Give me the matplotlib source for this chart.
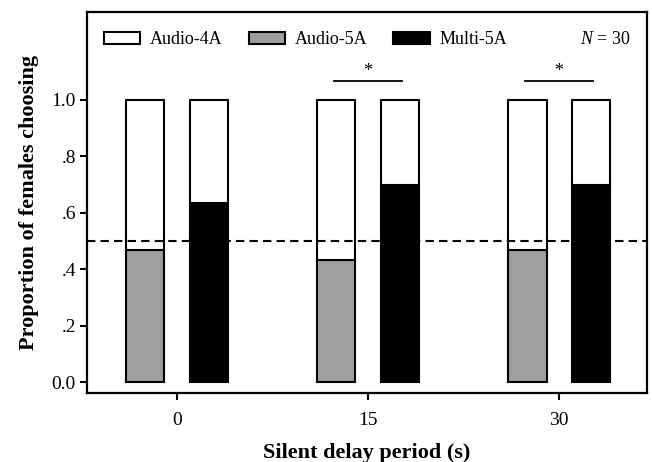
import matplotlib
matplotlib.use('Agg')
import matplotlib.pyplot as plt
import numpy as np

plt.rcParams['font.family'] = ['Liberation Serif', 'DejaVu Serif']
plt.rcParams['mathtext.fontset'] = 'custom'
plt.rcParams['mathtext.it'] = 'Liberation Serif:italic'
plt.rcParams['mathtext.rm'] = 'Liberation Serif'

# data
delays = ['0', '15', '30']
audio5a = [14 / 30, 13 / 30, 14 / 30]
multi5a = [19 / 30, 21 / 30, 21 / 30]
significant = [False, True, True]
chance = 0.5
n_label = '$N$ = 30'

x = np.arange(len(delays))
off = 0.166
w = 0.2

fig = plt.figure(figsize=(6.52, 4.62), dpi=100)
ax = fig.add_axes([87 / 652, 69 / 462, 560 / 652, 381 / 462])

a5 = np.array(audio5a)
m5 = np.array(multi5a)
lw = 1.5
# left bar: Audio-5A vs Audio-4A
ax.bar(x - off, a5, w, color='#9e9e9e', edgecolor='black', linewidth=lw, label='Audio-5A', zorder=3)
ax.bar(x - off, 1 - a5, w, bottom=a5, color='white', edgecolor='black', linewidth=lw, label='Audio-4A', zorder=3)
# right bar: Multi-5A vs Audio-4A
ax.bar(x + off, m5, w, color='black', edgecolor='black', linewidth=lw, label='Multi-5A', zorder=3)
ax.bar(x + off, 1 - m5, w, bottom=m5, color='white', edgecolor='black', linewidth=lw, zorder=3)

ax.axhline(chance, color='black', linestyle=(0, (4, 2.5)), linewidth=1.5, zorder=4)

for i, s in enumerate(significant):
    if s:
        ax.plot([x[i] - 0.176, x[i] + 0.176], [1.067, 1.067], color='black', linewidth=1.3)
        ax.text(x[i], 1.072, '*', ha='center', va='bottom', fontsize=13)

ax.set_xlim(-0.471, 2.46)
ax.set_ylim(-0.039, 1.312)
ax.set_xticks(x)
ax.set_xticklabels(delays, fontsize=14)
ax.set_yticks([0, 0.2, 0.4, 0.6, 0.8, 1.0])
ax.set_yticklabels(['0.0', '.2', '.4', '.6', '.8', '1.0'], fontsize=14)
ax.tick_params(direction='out', length=5, width=1.5, pad=3)
ax.tick_params(axis='x', pad=9)
for sp in ax.spines.values():
    sp.set_linewidth(1.6)

ax.set_xlabel('Silent delay period (s)', fontsize=16, fontweight='bold', labelpad=10)
ax.set_ylabel('Proportion of females choosing', fontsize=16, fontweight='bold', labelpad=9)

h, l = ax.get_legend_handles_labels()
order = [l.index('Audio-4A'), l.index('Audio-5A'), l.index('Multi-5A')]
ax.legend([h[i] for i in order], [l[i] for i in order], loc='center left',
          bbox_to_anchor=(0.03, 0.927), ncol=3, frameon=False, fontsize=13,
          handlelength=2.0, handleheight=0.72, handletextpad=0.55,
          columnspacing=1.45, borderpad=0, borderaxespad=0)
ax.text(0.97, 0.927, n_label, transform=ax.transAxes, ha='right', va='center', fontsize=13)

plt.savefig('out.png', dpi=100)
